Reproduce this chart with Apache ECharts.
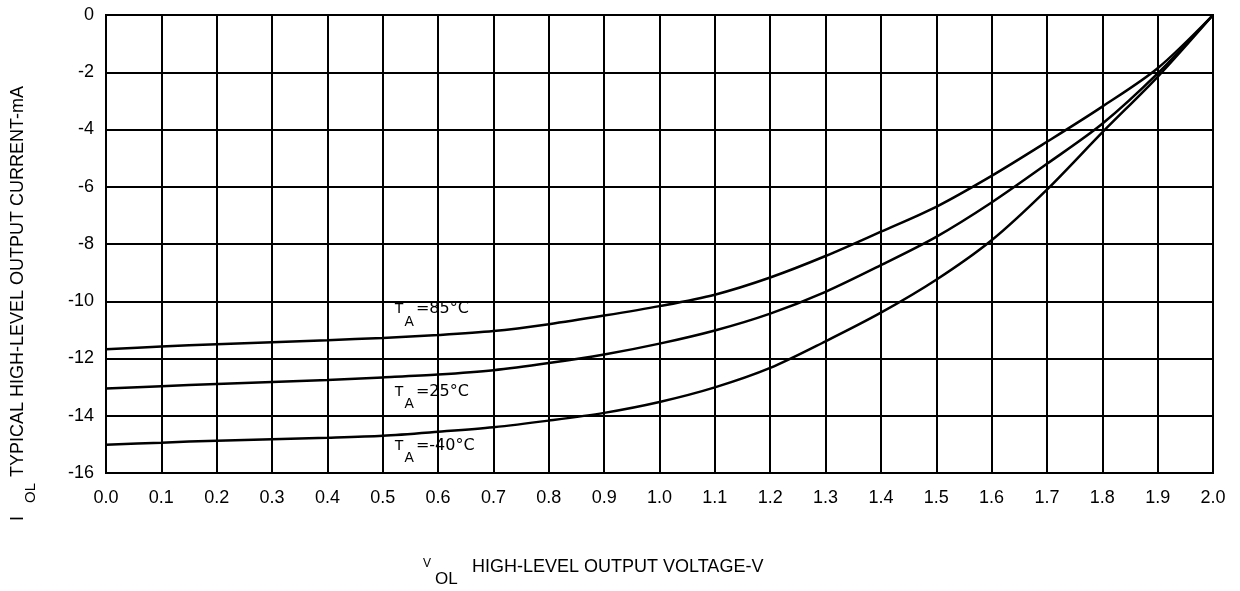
<!DOCTYPE html>
<html>
<head>
<meta charset="utf-8">
<script src="https://cdn.jsdelivr.net/npm/echarts@6/dist/echarts.min.js"></script>
<style>
html,body{margin:0;padding:0;background:#fff;}
#chart{width:1240px;height:591px;}
</style>
</head>
<body>
<div id="chart"></div>
<script>
// Data
const voltage = [0.0,0.1,0.2,0.3,0.4,0.5,0.6,0.7,0.8,0.9,1.0,1.1,1.2,1.3,1.4,1.5,1.6,1.7,1.8,1.9,2.0];
const iol85 = [-11.68,-11.58,-11.5,-11.43,-11.36,-11.28,-11.18,-11.04,-10.8,-10.5,-10.17,-9.77,-9.17,-8.42,-7.57,-6.7,-5.62,-4.43,-3.2,-1.86,0];
const iol25 = [-13.05,-12.97,-12.89,-12.82,-12.75,-12.66,-12.56,-12.41,-12.16,-11.86,-11.48,-11.02,-10.43,-9.67,-8.74,-7.75,-6.55,-5.2,-3.8,-2.04,0];
const iolM40 = [-15.01,-14.94,-14.87,-14.82,-14.77,-14.7,-14.56,-14.4,-14.17,-13.9,-13.52,-13.01,-12.33,-11.4,-10.4,-9.25,-7.87,-6.1,-4.1,-2.16,0];
const xTickLabels = ['0.0','0.1','0.2','0.3','0.4','0.5','0.6','0.7','0.8','0.9','1.0','1.1','1.2','1.3','1.4','1.5','1.6','1.7','1.8','1.9','2.0'];
const yTickLabels = ['-16','-14','-12','-10','-8','-6','-4','-2','0'];
const seriesNames = ['85°C','25°C','-40°C'];
const labelAnchors = [[0.522,-10.3],[0.522,-13.19],[0.522,-15.06]];

const FONT = '"Liberation Sans", Arial, sans-serif';
const chart = echarts.init(document.getElementById('chart'), null, {renderer:'canvas'});

function pairs(ys){ return voltage.map((v,i)=>[v, ys[i]]); }

function mkSeries(name, ys, anchor){
  return {
    name: name,
    type: 'line',
    data: pairs(ys),
    smooth: 0.3,
    symbol: 'none',
    lineStyle: {color:'#000', width:2.5},
    z: 5,
    markPoint: {
      symbol: 'circle',
      symbolSize: 1,
      silent: true,
      itemStyle: {color:'rgba(0,0,0,0)'},
      data: [{coord: anchor, value: name}],
      label: {
        show: true,
        position: [0,0],
        align: 'left',
        verticalAlign: 'middle',
        formatter: function(){ return '{t|T}{a|A}{e|=' + name + '}'; },
        rich: {
          t: {fontFamily: FONT, fontSize: 15, color:'#000'},
          a: {fontFamily: FONT, fontSize: 14, color:'#000', padding:[25,2,0,1]},
          e: {fontFamily: '"DejaVu Sans", sans-serif', fontSize: 16, color:'#000'}
        }
      }
    }
  };
}

const option = {
  backgroundColor: '#fff',
  animation: false,
  grid: {left:106, right:27, top:15, bottom:118, show:true, borderColor:'#000', borderWidth:2, containLabel:false},
  xAxis: {
    type: 'value', min: 0, max: 2, interval: 0.1,
    axisLine: {show:true, lineStyle:{color:'#000', width:2}},
    axisTick: {show:false},
    splitLine: {show:true, lineStyle:{color:'#000', width:2}},
    axisLabel: {
      color:'#000', fontFamily: FONT, fontSize: 18, margin: 16,
      formatter: function(v){ const i = Math.round(v*10); return xTickLabels[i] !== undefined ? xTickLabels[i] : ''; }
    }
  },
  yAxis: {
    type: 'value', min: -16, max: 0, interval: 2,
    axisLine: {show:true, lineStyle:{color:'#000', width:2}},
    axisTick: {show:false},
    splitLine: {show:true, lineStyle:{color:'#000', width:2}},
    axisLabel: {
      color:'#000', fontFamily: FONT, fontSize: 18, margin: 12,
      formatter: function(v){ const i = Math.round((v+16)/2); return yTickLabels[i] !== undefined ? yTickLabels[i] : ''; }
    }
  },
  graphic: [
    {type:'text', x:18.5, y:477, rotation:Math.PI/2, style:{text:'TYPICAL HIGH-LEVEL OUTPUT CURRENT-mA', font:'18px ' + FONT, fill:'#000', align:'left', verticalAlign:'middle'}},
    {type:'text', x:18.5, y:521, rotation:Math.PI/2, style:{text:'I', font:'18px ' + FONT, fill:'#000', align:'left', verticalAlign:'middle'}},
    {type:'text', x:31, y:503, rotation:Math.PI/2, style:{text:'OL', font:'15px ' + FONT, fill:'#000', align:'left', verticalAlign:'middle'}},
    {type:'text', x:423, y:564, style:{text:'V', font:'12px ' + FONT, fill:'#000', align:'left', verticalAlign:'middle'}},
    {type:'text', x:435, y:579, style:{text:'OL', font:'17px ' + FONT, fill:'#000', align:'left', verticalAlign:'middle'}},
    {type:'text', x:472, y:567, style:{text:'HIGH-LEVEL OUTPUT VOLTAGE-V', font:'18px ' + FONT, fill:'#000', align:'left', verticalAlign:'middle'}}
  ],
  series: [
    mkSeries(seriesNames[0], iol85, labelAnchors[0]),
    mkSeries(seriesNames[1], iol25, labelAnchors[1]),
    mkSeries(seriesNames[2], iolM40, labelAnchors[2])
  ]
};
chart.setOption(option);
</script>
</body>
</html>
